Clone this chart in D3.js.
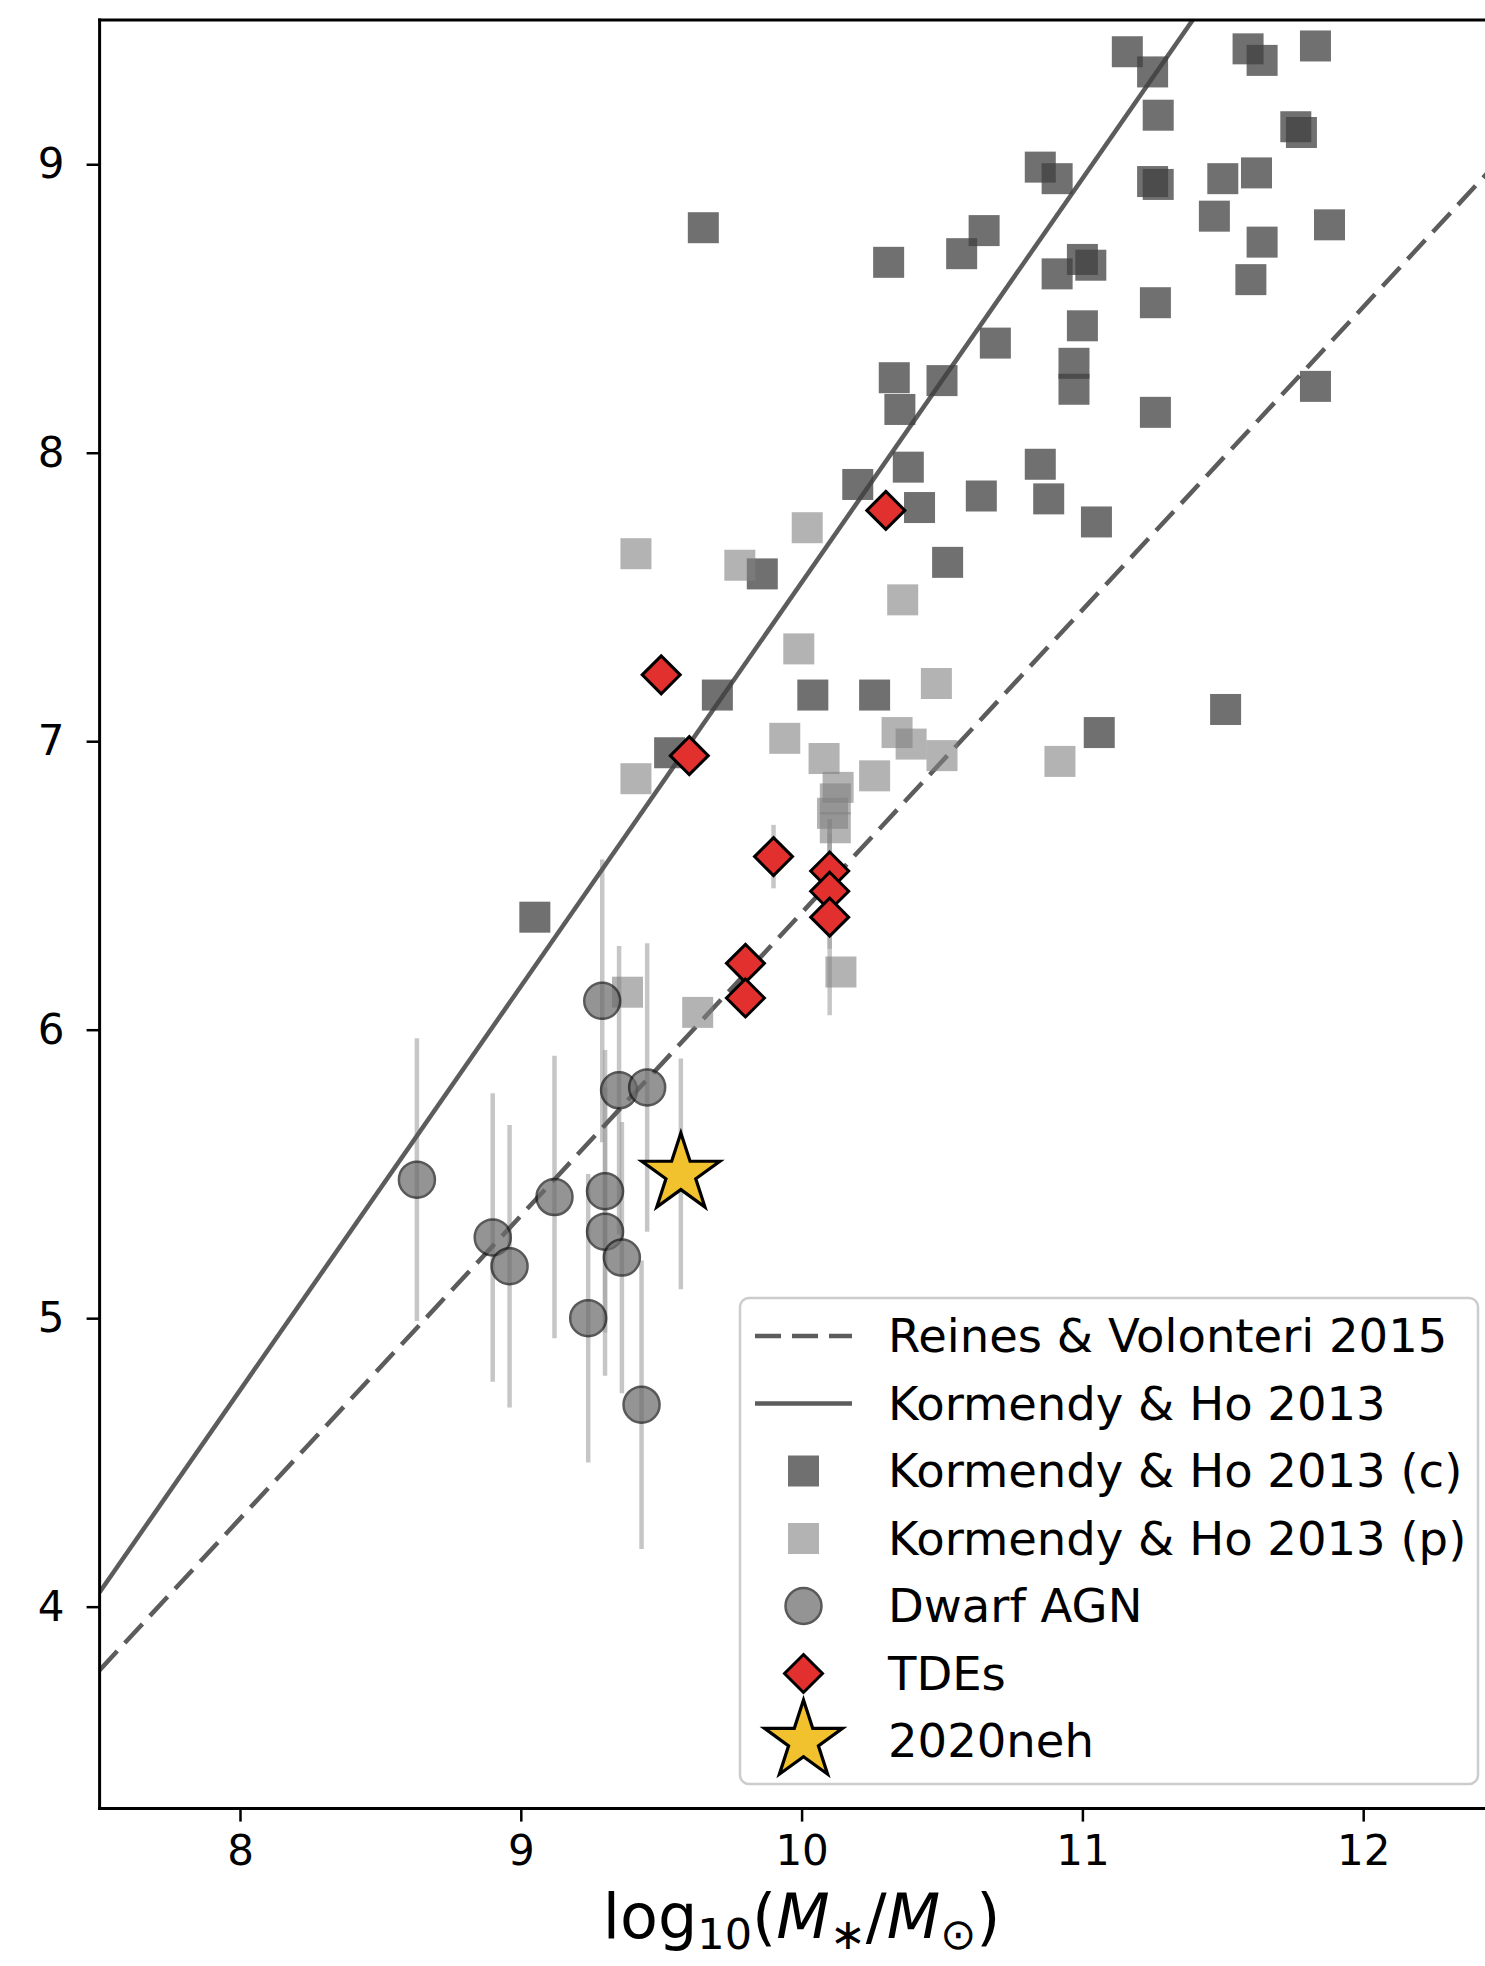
<!DOCTYPE html>
<html>
<head>
<meta charset="utf-8">
<script src="https://cdn.jsdelivr.net/npm/d3@7"></script>
<style>
  html, body { margin: 0; padding: 0; background: #ffffff; }
  svg { display: block; font-family: "DejaVu Sans", sans-serif; }
</style>
</head>
<body>
<svg id="chart" width="1485" height="1966"></svg>
<script>
// ---- Kormendy & Ho 2013: ellipticals / classical bulges (c) ----
const khCoreX = [9.65, 10.31, 10.57, 10.65, 10.69, 10.33, 10.35, 10.50, 11.16, 11.25,
                 11.59, 11.64, 11.83, 11.27, 11.76, 11.78, 10.85, 10.91, 11.25, 11.27,
                 11.50, 11.62, 11.47, 11.88, 11.64, 11.60, 10.91, 11.00, 11.03, 11.26,
                 11.00, 10.97, 10.97, 11.26, 11.83, 10.38, 10.20, 10.42, 10.64, 10.52,
                 9.86, 9.70, 10.04, 10.26, 9.53, 10.85, 10.88, 11.05, 11.06, 11.51, 9.05];
const khCoreY = [8.78, 8.66, 8.69, 8.77, 8.38, 8.26, 8.15, 8.25, 9.39, 9.32,
                 9.40, 9.36, 9.41, 9.17, 9.13, 9.11, 8.99, 8.95, 8.94, 8.93,
                 8.95, 8.97, 8.82, 8.79, 8.73, 8.60, 8.62, 8.67, 8.65, 8.52,
                 8.44, 8.31, 8.22, 8.14, 8.23, 7.95, 7.89, 7.81, 7.85, 7.62,
                 7.58, 7.16, 7.16, 7.16, 6.96, 7.96, 7.84, 7.76, 7.03, 7.11, 6.39];

// ---- Kormendy & Ho 2013: pseudobulges (p) ----
const khPseudoX = [9.41, 9.78, 10.02, 10.36, 9.99, 10.48, 9.94, 10.34, 10.39, 10.50,
                   10.08, 10.26, 9.41, 10.13, 10.12, 10.11, 10.12, 10.92, 9.38, 9.63, 10.14];
const khPseudoY = [7.65, 7.61, 7.74, 7.49, 7.32, 7.20, 7.01, 7.03, 6.99, 6.95,
                   6.94, 6.88, 6.87, 6.84, 6.80, 6.75, 6.70, 6.93, 6.13, 6.06, 6.20];

// ---- Dwarf AGN with black-hole mass uncertainties ----
const dwarfX   = [8.63, 8.90, 8.96, 9.12, 9.24, 9.29, 9.30, 9.30, 9.36, 9.35, 9.45, 9.43];
const dwarfY   = [5.48, 5.28, 5.18, 5.42, 5.00, 6.10, 5.44, 5.30, 5.21, 5.79, 5.80, 4.70];
const dwarfErr = [0.49, 0.50, 0.49, 0.49, 0.50, 0.49, 0.49, 0.50, 0.47, 0.50, 0.50, 0.50];

// ---- Tidal disruption event hosts ----
const tdeX   = [9.50, 9.60, 9.90, 10.10, 10.10, 10.10, 9.80, 9.80, 10.30];
const tdeY   = [7.23, 6.95, 6.60, 6.55, 6.48, 6.39, 6.23, 6.11, 7.80];
const tdeErr = [0.00, 0.00, 0.11, 0.18, 0.20, 0.34, 0.00, 0.00, 0.00];

// ---- AT 2020neh ----
const nehX = [9.57];
const nehY = [5.50];
const nehErr = [0.40];

// ---- Scaling relations (end points in log10 M*, log10 MBH) ----
const rv15Line = [[7.5, 3.78], [12.5, 9.03]];
const kh13Line = [[7.5, 4.05], [12.5, 11.05]];

// ---- Axis ticks and legend labels ----
const xTicks = [8, 9, 10, 11, 12];
const yTicks = [4, 5, 6, 7, 8, 9];
const legendLabels = ["Reines & Volonteri 2015", "Kormendy & Ho 2013",
                      "Kormendy & Ho 2013 (c)", "Kormendy & Ho 2013 (p)",
                      "Dwarf AGN", "TDEs", "2020neh"];

// ---- Layout ----
const svg = d3.select("#chart");
const plot = { left: 99.6, right: 1503.6, top: 20, bottom: 1808.6 };
const x = d3.scaleLinear().domain([7.5, 12.5]).range([plot.left, plot.right]);
const y = d3.scaleLinear().domain([3.3, 9.5]).range([plot.bottom, plot.top]);

const colors = {
  line: "#5c5c5c",
  core: "#404040",
  pseudo: "#808080",
  dwarf: "#6c6c6c",
  err: "#a0a0a0",
  tde: "#e2302e",
  star: "#f2c12e"
};
const squareSide = 31;
const dwarfR = 18;
const dwarfOpacity = 0.72;
const diamondPath = (h) => `M0,${-h}L${h},0L0,${h}L${-h},0Z`;
const starSymbol = d3.symbol().type(d3.symbolStar).size(41 * 41 / 0.8908130915292852);

svg.append("defs").append("clipPath").attr("id", "plotClip")
  .append("rect")
  .attr("x", plot.left).attr("y", plot.top)
  .attr("width", plot.right - plot.left).attr("height", plot.bottom - plot.top);

const g = svg.append("g").attr("clip-path", "url(#plotClip)");

// Error bars
function errorBars(xs, ys, es) {
  return xs.map((v, i) => ({ x: v, y: ys[i], e: es[i] })).filter(d => d.e > 0);
}
g.append("g").selectAll("line")
  .data([].concat(errorBars(dwarfX, dwarfY, dwarfErr),
                  errorBars(tdeX, tdeY, tdeErr),
                  errorBars(nehX, nehY, nehErr)))
  .join("line")
  .attr("x1", d => x(d.x)).attr("x2", d => x(d.x))
  .attr("y1", d => y(d.y - d.e)).attr("y2", d => y(d.y + d.e))
  .attr("stroke", colors.err).attr("stroke-opacity", 0.6).attr("stroke-width", 4.5);

// Scaling relations
const lineGen = d3.line().x(d => x(d[0])).y(d => y(d[1]));
g.append("path").attr("d", lineGen(rv15Line))
  .attr("fill", "none").attr("stroke", colors.line).attr("stroke-width", 4.5)
  .attr("stroke-dasharray", "26,11");
g.append("path").attr("d", lineGen(kh13Line))
  .attr("fill", "none").attr("stroke", colors.line).attr("stroke-width", 4.5);

// Kormendy & Ho squares
g.append("g").selectAll("rect")
  .data(khCoreX.map((v, i) => [v, khCoreY[i]]))
  .join("rect")
  .attr("x", d => x(d[0]) - squareSide / 2).attr("y", d => y(d[1]) - squareSide / 2)
  .attr("width", squareSide).attr("height", squareSide)
  .attr("fill", colors.core).attr("fill-opacity", 0.75);
g.append("g").selectAll("rect")
  .data(khPseudoX.map((v, i) => [v, khPseudoY[i]]))
  .join("rect")
  .attr("x", d => x(d[0]) - squareSide / 2).attr("y", d => y(d[1]) - squareSide / 2)
  .attr("width", squareSide).attr("height", squareSide)
  .attr("fill", colors.pseudo).attr("fill-opacity", 0.6);

// Dwarf AGN
g.append("g").selectAll("circle")
  .data(dwarfX.map((v, i) => [v, dwarfY[i]]))
  .join("circle")
  .attr("cx", d => x(d[0])).attr("cy", d => y(d[1])).attr("r", dwarfR)
  .attr("fill", colors.dwarf).attr("stroke", "#1a1a1a").attr("stroke-width", 2.5)
  .attr("opacity", dwarfOpacity);

// TDEs
g.append("g").selectAll("path")
  .data(tdeX.map((v, i) => [v, tdeY[i]]))
  .join("path")
  .attr("d", diamondPath(19))
  .attr("transform", d => `translate(${x(d[0])},${y(d[1])})`)
  .attr("fill", colors.tde).attr("stroke", "#000").attr("stroke-width", 3)
  .attr("stroke-linejoin", "miter");

// 2020neh
g.append("g").selectAll("path")
  .data(nehX.map((v, i) => [v, nehY[i]]))
  .join("path")
  .attr("d", starSymbol())
  .attr("transform", d => `translate(${x(d[0])},${y(d[1])})`)
  .attr("fill", colors.star).attr("stroke", "#000").attr("stroke-width", 3.2)
  .attr("stroke-linejoin", "miter");

// Axes
const tickFont = 42;
const xAxis = d3.axisBottom(x).tickValues(xTicks).tickSize(13).tickSizeOuter(0).tickPadding(14)
  .tickFormat(d3.format("d"));
const yAxis = d3.axisLeft(y).tickValues(yTicks).tickSize(13).tickSizeOuter(0).tickPadding(22)
  .tickFormat(d3.format("d"));

const gx = svg.append("g").attr("transform", `translate(0,${plot.bottom})`).call(xAxis);
const gy = svg.append("g").attr("transform", `translate(${plot.left},0)`).call(yAxis);
[gx, gy].forEach(ax => {
  ax.select(".domain").remove();
  ax.selectAll(".tick line").attr("stroke", "#000").attr("stroke-width", 2.5);
  ax.selectAll(".tick text").attr("fill", "#000")
    .attr("font-size", tickFont).attr("font-family", "DejaVu Sans, sans-serif");
});

// Spines
svg.append("g").attr("stroke", "#000").attr("stroke-width", 3).attr("fill", "none")
  .selectAll("line")
  .data([
    [plot.left, plot.top, 1485, plot.top],
    [plot.left, plot.bottom, 1485, plot.bottom],
    [plot.left, plot.top, plot.left, plot.bottom]
  ])
  .join("line")
  .attr("x1", d => d[0]).attr("y1", d => d[1]).attr("x2", d => d[2]).attr("y2", d => d[3])
  .attr("stroke-linecap", "square");

// X-axis label: log10(M*/M⊙)
const xl = svg.append("text")
  .attr("x", (plot.left + plot.right) / 2).attr("y", 1938)
  .attr("text-anchor", "middle").attr("font-size", 62).attr("fill", "#000");
xl.append("tspan").text("log");
xl.append("tspan").attr("font-size", 43).attr("dy", 11).text("10");
xl.append("tspan").attr("dy", -11).text("(");
xl.append("tspan").attr("font-style", "italic").text("M");
xl.append("tspan").attr("font-size", 43).attr("dy", 11).text("∗");
xl.append("tspan").attr("dy", -11).text("/");
xl.append("tspan").attr("font-style", "italic").text("M");
xl.append("tspan").attr("font-size", 43).attr("dy", 11).text("⊙");
xl.append("tspan").attr("dy", -11).text(")");

// Legend
const leg = svg.append("g");
leg.append("rect")
  .attr("x", 740).attr("y", 1298).attr("width", 738).attr("height", 486)
  .attr("rx", 9).attr("fill", "#ffffff").attr("fill-opacity", 0.8)
  .attr("stroke", "#cccccc").attr("stroke-width", 2.5);

const rowY = d3.scaleLinear().domain([0, legendLabels.length - 1]).range([1336, 1741]);
const handleX = 803.5;
const rows = leg.selectAll("g.row").data(legendLabels).join("g").attr("class", "row")
  .attr("transform", (d, i) => `translate(0,${rowY(i)})`);

rows.append("text")
  .attr("x", 888).attr("y", 16)
  .attr("font-size", 46.5).attr("fill", "#000")
  .text(d => d);

rows.each(function(d, i) {
  const r = d3.select(this);
  if (i === 0 || i === 1) {
    r.append("line").attr("x1", 755).attr("x2", 852).attr("y1", 0).attr("y2", 0)
      .attr("stroke", colors.line).attr("stroke-width", 4.5)
      .attr("stroke-dasharray", i === 0 ? "26,11" : null);
  } else if (i === 2 || i === 3) {
    r.append("rect").attr("x", handleX - squareSide / 2).attr("y", -squareSide / 2)
      .attr("width", squareSide).attr("height", squareSide)
      .attr("fill", i === 2 ? colors.core : colors.pseudo)
      .attr("fill-opacity", i === 2 ? 0.75 : 0.6);
  } else if (i === 4) {
    r.append("circle").attr("cx", handleX).attr("cy", 0).attr("r", dwarfR)
      .attr("fill", colors.dwarf).attr("stroke", "#1a1a1a").attr("stroke-width", 2.5)
      .attr("opacity", dwarfOpacity);
  } else if (i === 5) {
    r.append("path").attr("d", diamondPath(19))
      .attr("transform", `translate(${handleX},0)`)
      .attr("fill", colors.tde).attr("stroke", "#000").attr("stroke-width", 3);
  } else {
    r.append("path").attr("d", starSymbol())
      .attr("transform", `translate(${handleX},0)`)
      .attr("fill", colors.star).attr("stroke", "#000").attr("stroke-width", 3.2);
  }
});
</script>
</body>
</html>
